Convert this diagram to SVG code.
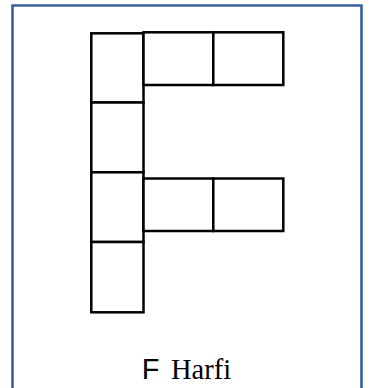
<svg xmlns="http://www.w3.org/2000/svg" width="372" height="388" viewBox="0 0 372 388">
<style>
.cell{fill:#fff;stroke:#000;stroke-width:2.5}
.frame{fill:none;stroke:#3a5f9e;stroke-width:2.6}
.sans{font-family:"Liberation Sans",Arial,sans-serif;font-size:29px;fill:#000}
.serif{font-family:"Liberation Serif","Times New Roman",serif;font-size:28.5px;fill:#000}
</style>
<rect width="372" height="388" fill="#fff"/>
<path class="frame" d="M12.5,390 V5.5 H361.5 V390"/>
<g id="column">
<rect class="cell" x="91.3" y="33.3" width="52.2" height="69.2"/>
<rect class="cell" x="91.3" y="102.5" width="52.2" height="69.8"/>
<rect class="cell" x="91.3" y="172.3" width="52.2" height="69.7"/>
<rect class="cell" x="91.3" y="242" width="52.2" height="70.3"/>
</g>
<g id="top-arm">
<rect class="cell" x="143.5" y="32.3" width="69.8" height="52.7"/>
<rect class="cell" x="213.3" y="32.3" width="70" height="52.7"/>
</g>
<g id="middle-arm">
<rect class="cell" x="143.5" y="178.5" width="69.8" height="52.5"/>
<rect class="cell" x="213.3" y="178.5" width="70" height="52.5"/>
</g>
<g id="caption">
<text class="sans" x="141.8" y="379.3">F</text>
<text class="serif" x="171" y="379.3">Harfi</text>
</g>
</svg>
